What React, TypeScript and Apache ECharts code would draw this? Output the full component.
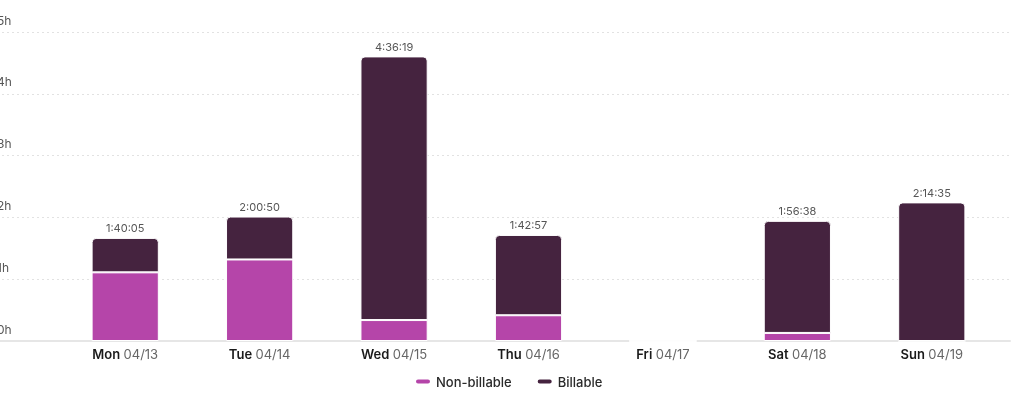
import React, { useEffect, useRef } from "react";
import * as echarts from "echarts";

const days = ["Mon", "Tue", "Wed", "Thu", "Fri", "Sat", "Sun"];
const dates = ["04/13", "04/14", "04/15", "04/16", "04/17", "04/18", "04/19"];
// durations in seconds
const nonBillableSec = [4000, 4750, 1220, 1500, 0, 470, 0];
const billableSec = [2005, 2500, 15359, 4677, 0, 6528, 8075];
const yTicks = [0, 1, 2, 3, 4, 5];

const fmt = (s: number) => {
  const h = Math.floor(s / 3600);
  const m = Math.floor((s % 3600) / 60);
  const sec = s % 60;
  return `${h}:${String(m).padStart(2, "0")}:${String(sec).padStart(2, "0")}`;
};

export default function App() {
  const ref = useRef<HTMLDivElement>(null);
  useEffect(() => {
    if (!ref.current) return;
    const chart = echarts.init(ref.current, undefined, { renderer: "svg" });
    const totals = nonBillableSec.map((v, i) => v + billableSec[i]);
    const font = "Inter, 'Noto Sans', sans-serif";
    const pill = "path://M3,0 H13 A3,3 0 0 1 13,6 H3 A3,3 0 0 1 3,0 Z";
    chart.setOption({
      animation: false,
      textStyle: { fontFamily: font },
      grid: [
        { left: 64, right: 25, top: 32, bottom: 60 },
        { left: 0, right: 14, top: 32, bottom: 60 },
      ],
      legend: {
        bottom: 8,
        left: 415,
        itemWidth: 16,
        itemHeight: 6,
        itemGap: 24,
        textStyle: { color: "#2a2a2a", fontSize: 13, fontWeight: 500, fontFamily: font },
        data: [
          { name: "Non-billable", icon: pill },
          { name: "Billable", icon: pill },
        ],
      },
      xAxis: [
        {
          type: "category",
          gridIndex: 0,
          data: days.map((d, i) => `${d}|${dates[i]}`),
          axisLine: { show: false },
          axisTick: { show: false },
          axisLabel: {
            interval: 0,
            margin: 6,
            formatter: (v: string) => {
              const [d, dt] = v.split("|");
              return `{b|${d}} {d|${dt}}`;
            },
            rich: {
              b: { fontWeight: 600, color: "#1a1a1a", fontSize: 13, fontFamily: font },
              d: { color: "#666", fontSize: 13, fontFamily: font },
            },
          },
        },
        {
          type: "value",
          gridIndex: 1,
          min: 0,
          max: 1,
          axisLine: { show: true, lineStyle: { color: "#e6e6e6", width: 2 } },
          axisTick: { show: false },
          axisLabel: { show: false },
          splitLine: { show: false },
        },
      ],
      yAxis: [
        {
          type: "value",
          gridIndex: 0,
          min: yTicks[0],
          max: yTicks[yTicks.length - 1],
          interval: 1,
          show: false,
          splitLine: { show: false },
        },
        {
          type: "value",
          gridIndex: 1,
          min: yTicks[0],
          max: yTicks[yTicks.length - 1],
          interval: 1,
          axisLine: { show: false },
          axisTick: { show: false },
          axisLabel: {
            inside: true,
            margin: 0,
            verticalAlign: "bottom",
            padding: [0, 0, 6, 0],
            color: "#555",
            fontSize: 12,
            fontFamily: font,
            formatter: "{value}h",
          },
          splitLine: {
            show: true,
            lineStyle: { color: "#e2e2e2", type: [2, 3], width: 1 },
          },
        },
      ],
      series: [
        {
          name: "Non-billable",
          type: "bar",
          stack: "t",
          xAxisIndex: 0,
          yAxisIndex: 0,
          barWidth: "50%",
          data: nonBillableSec.map((v) => v / 3600),
          itemStyle: { color: "#b545a9", borderColor: "#fff", borderWidth: 1 },
        },
        {
          name: "Billable",
          type: "bar",
          stack: "t",
          xAxisIndex: 0,
          yAxisIndex: 0,
          barWidth: "50%",
          data: billableSec.map((v) => v / 3600),
          itemStyle: {
            color: "#45233f",
            borderColor: "#fff",
            borderWidth: 1,
            borderRadius: [4, 4, 0, 0],
          },
          label: {
            show: true,
            position: "top",
            distance: 4,
            color: "#555",
            fontSize: 11,
            fontFamily: font,
            formatter: (p: any) => (totals[p.dataIndex] > 0 ? fmt(totals[p.dataIndex]) : ""),
          },
        },
      ],
    });
    return () => chart.dispose();
  }, []);
  return (
    <div
      ref={ref}
      style={{ position: "fixed", left: -6, top: 0, width: 1030, height: 401 }}
    />
  );
}
